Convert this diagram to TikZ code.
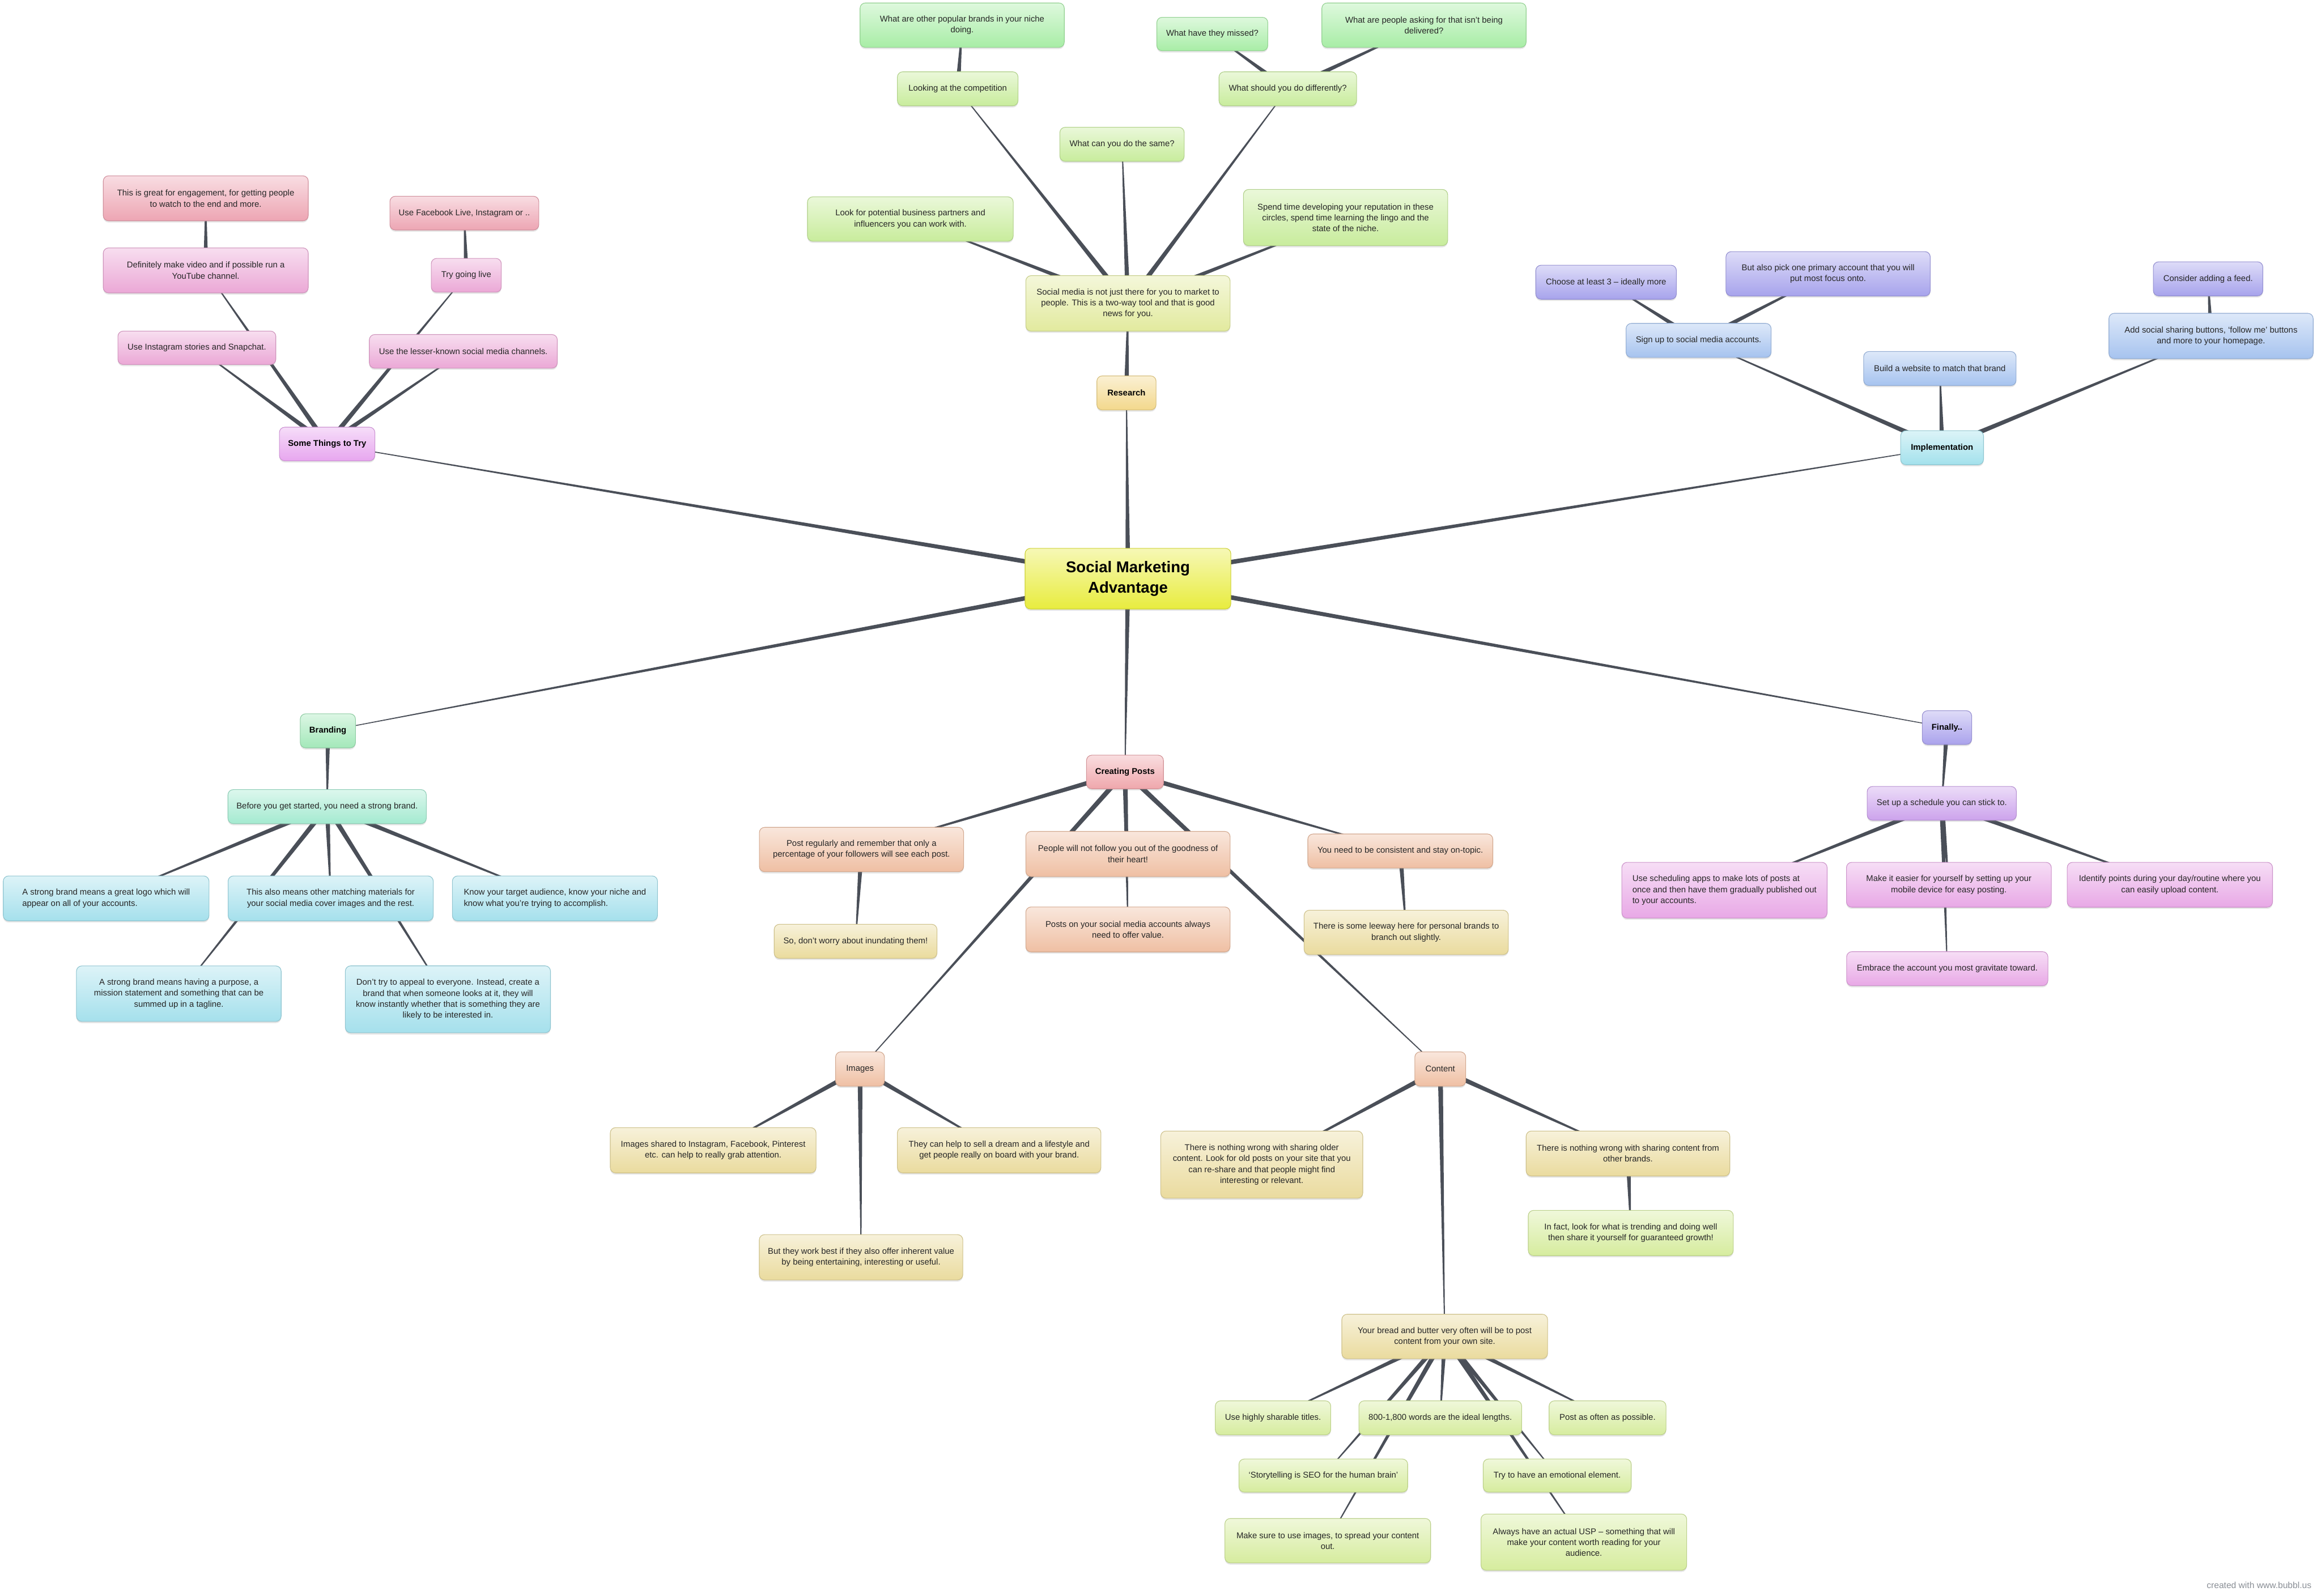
\documentclass[tikz,border=0pt]{standalone}
\usepackage{fontspec}
\setmainfont{Liberation Sans}
\usetikzlibrary{calc,shadows}
\definecolor{linkgrey}{HTML}{4A4F58}
\definecolor{txt}{HTML}{262626}
\definecolor{creditgrey}{HTML}{8A8F96}
\definecolor{sunny}{HTML}{E8EC3E}
\definecolor{sand}{HTML}{F3D88C}
\definecolor{citron}{HTML}{E2EA9E}
\definecolor{lime}{HTML}{C8EC9C}
\definecolor{leaf}{HTML}{A8EDA6}
\definecolor{aqua}{HTML}{A3E1EC}
\definecolor{sky}{HTML}{A6C3EF}
\definecolor{iris}{HTML}{A7A3EC}
\definecolor{orchid}{HTML}{E7A6EF}
\definecolor{rose}{HTML}{EBA8D6}
\definecolor{blush}{HTML}{EDA5B3}
\definecolor{jade}{HTML}{A3E8B9}
\definecolor{seafoam}{HTML}{A4EAD0}
\definecolor{ice}{HTML}{A5E0EC}
\definecolor{coral}{HTML}{EFA7AC}
\definecolor{peach}{HTML}{EFBFA3}
\definecolor{cream}{HTML}{EADB9E}
\definecolor{pistachio}{HTML}{D6EC9E}
\definecolor{lavender}{HTML}{AAA2EC}
\definecolor{lilac}{HTML}{CCA3EC}
\definecolor{mauve}{HTML}{E8A8E6}
\pgfdeclarelayer{links}
\pgfsetlayers{links,main}
% tapered connector: thick at the parent, thin at the child
\newcommand{\linkup}[2]{%
  \fill[linkgrey] ($(#1)!0.085cm!90:(#2)$) -- ($(#2)!0.012cm!-90:(#1)$)
    -- ($(#2)!0.012cm!90:(#1)$) -- ($(#1)!0.085cm!-90:(#2)$) -- cycle;}

\begin{document}
\begin{tikzpicture}[x=0.05cm,y=-0.05cm,
  box/.style={draw,rounded corners=0.18cm,line width=0.6pt,align=center,
    font=\fontsize{8.1}{10.5}\selectfont,text=txt,inner xsep=3pt,inner ysep=2pt,
    drop shadow={shadow xshift=0pt,shadow yshift=-1.6pt,opacity=0.2}},
  tint/.style={top color=#1!38,bottom color=#1,draw=#1!88!black},
  wh/.style 2 args={minimum width=#1*0.05cm,minimum height=#2*0.05cm},
  head/.style={font=\fontsize{8.1}{10.5}\bfseries,text=black},
  core/.style={font=\fontsize{15}{20}\bfseries,text=black},
]
  \useasboundingbox (0,0) rectangle (1568,1078);

  % centre
  \node[box,tint=sunny,core,wh={139}{41}] (hub) at (762,391) {Social Marketing\\Advantage};

  % research
  \node[box,tint=sand,head,wh={40}{23}] (research) at (761,265.5) {Research};
  \node[box,tint=citron,wh={138}{37.5}] (twoway) at (762,205) {Social media is not just there for you to market to\\people. This is a two-way tool and that is good\\news for you.};
  \node[box,tint=lime,wh={81.5}{23}] (competition) at (647,60) {Looking at the competition};
  \node[box,tint=leaf,wh={138}{30}] (popular) at (650,17) {What are other popular brands in your niche\\doing.};
  \node[box,tint=lime,wh={93}{23}] (differently) at (870,60) {What should you do differently?};
  \node[box,tint=leaf,wh={75}{22.6}] (missed) at (819,23) {What have they missed?};
  \node[box,tint=leaf,wh={138}{30}] (asking) at (962,17) {What are people asking for that isn’t being\\delivered?};
  \node[box,tint=lime,wh={84}{23}] (same) at (758,97.5) {What can you do the same?};
  \node[box,tint=lime,wh={139}{30}] (partners) at (615,148) {Look for potential business partners and\\influencers you can work with.};
  \node[box,tint=lime,wh={138}{38}] (reputation) at (909,147) {Spend time developing your reputation in these\\circles, spend time learning the lingo and the\\state of the niche.};

  % some things to try
  \node[box,tint=orchid,head,wh={64.5}{22.7}] (trythings) at (221,300) {Some Things to Try};
  \node[box,tint=rose,wh={106.7}{22.6}] (stories) at (133,235) {Use Instagram stories and Snapchat.};
  \node[box,tint=rose,wh={138.5}{30.4}] (video) at (139,182.7) {Definitely make video and if possible run a\\YouTube channel.};
  \node[box,tint=blush,wh={138.5}{30.4}] (engage) at (139,134) {This is great for engagement, for getting people\\to watch to the end and more.};
  \node[box,tint=rose,wh={127}{22.7}] (lesser) at (313,237.4) {Use the lesser-known social media channels.};
  \node[box,tint=rose,wh={47.3}{22.8}] (golive) at (315,186) {Try going live};
  \node[box,tint=blush,wh={100.6}{22.8}] (fblive) at (313.7,144) {Use Facebook Live, Instagram or ..};

  % implementation
  \node[box,tint=aqua,head,wh={56}{23}] (impl) at (1312,302.5) {Implementation};
  \node[box,tint=sky,wh={98}{23}] (signup) at (1147.5,230) {Sign up to social media accounts.};
  \node[box,tint=iris,wh={95}{23}] (three) at (1085,190.7) {Choose at least 3 – ideally more};
  \node[box,tint=iris,wh={138}{30}] (primary) at (1235,185) {But also pick one primary account that you will\\put most focus onto.};
  \node[box,tint=sky,wh={103}{23}] (website) at (1310.5,249) {Build a website to match that brand};
  \node[box,tint=sky,wh={138}{30.6}] (sharing) at (1493.7,227) {Add social sharing buttons, ‘follow me’ buttons\\and more to your homepage.};
  \node[box,tint=iris,wh={74}{23}] (feed) at (1491.7,188.4) {Consider adding a feed.};

  % branding
  \node[box,tint=jade,head,wh={37.3}{23}] (branding) at (221.5,493.8) {Branding};
  \node[box,tint=seafoam,wh={134}{23}] (strongbrand) at (221,545) {Before you get started, you need a strong brand.};
  \node[box,tint=ice,wh={139}{30.3},align=left] (logo) at (71.7,607) {A strong brand means a great logo which will\\appear on all of your accounts.};
  \node[box,tint=ice,wh={138.6}{30.3}] (materials) at (223.4,607) {This also means other matching materials for\\your social media cover images and the rest.};
  \node[box,tint=ice,wh={138.6}{30.3},align=left] (audience) at (374.9,607) {Know your target audience, know your niche and\\know what you’re trying to accomplish.};
  \node[box,tint=ice,wh={138.3}{37.5}] (purpose) at (120.8,671.4) {A strong brand means having a purpose, a\\mission statement and something that can be\\summed up in a tagline.};
  \node[box,tint=ice,wh={138.6}{45.2}] (appeal) at (302.6,675.2) {Don’t try to appeal to everyone. Instead, create a\\brand that when someone looks at it, they will\\know instantly whether that is something they are\\likely to be interested in.};

  % creating posts
  \node[box,tint=coral,head,wh={52}{22.7}] (posts) at (760,521.6) {Creating Posts};
  \node[box,tint=peach,wh={138}{30}] (regularly) at (582,574) {Post regularly and remember that only a\\percentage of your followers will see each post.};
  \node[box,tint=cream,wh={110}{23}] (inundate) at (578,636) {So, don’t worry about inundating them!};
  \node[box,tint=peach,wh={138}{30.5}] (goodness) at (762,577) {People will not follow you out of the goodness of\\their heart!};
  \node[box,tint=peach,wh={138}{30.4}] (value) at (762,628) {Posts on your social media accounts always\\need to offer value.};
  \node[box,tint=peach,wh={125}{23}] (ontopic) at (946,575) {You need to be consistent and stay on-topic.};
  \node[box,tint=cream,wh={138}{30}] (leeway) at (950,630) {There is some leeway here for personal brands to\\branch out slightly.};

  \node[box,tint=peach,wh={33}{23.2}] (images) at (581,722.3) {Images};
  \node[box,tint=cream,wh={139}{30.6}] (shared) at (481.8,777.2) {Images shared to Instagram, Facebook, Pinterest\\etc. can help to really grab attention.};
  \node[box,tint=cream,wh={137.5}{30.6}] (dream) at (675,777.2) {They can help to sell a dream and a lifestyle and\\get people really on board with your brand.};
  \node[box,tint=cream,wh={137.5}{30.6}] (inherent) at (581.7,849.5) {But they work best if they also offer inherent value\\by being entertaining, interesting or useful.};

  \node[box,tint=peach,wh={34.4}{23.2}] (content) at (973,722.3) {Content};
  \node[box,tint=cream,wh={136.5}{45.4}] (older) at (852.4,786.9) {There is nothing wrong with sharing older\\content. Look for old posts on your site that you\\can re-share and that people might find\\interesting or relevant.};
  \node[box,tint=cream,wh={137.6}{30.4}] (otherbrands) at (1099.8,779.4) {There is nothing wrong with sharing content from\\other brands.};
  \node[box,tint=pistachio,wh={138.5}{30.6}] (trending) at (1101.7,833.1) {In fact, look for what is trending and doing well\\then share it yourself for guaranteed growth!};
  \node[box,tint=cream,wh={139}{30}] (ownsite) at (976,903) {Your bread and butter very often will be to post\\content from your own site.};
  \node[box,tint=pistachio,wh={78}{23}] (titles) at (860,958) {Use highly sharable titles.};
  \node[box,tint=pistachio,wh={110}{23}] (lengths) at (973,958) {800-1,800 words are the ideal lengths.};
  \node[box,tint=pistachio,wh={79}{23}] (often) at (1086,958) {Post as often as possible.};
  \node[box,tint=pistachio,wh={114}{22.4}] (story) at (894,997) {‘Storytelling is SEO for the human brain’};
  \node[box,tint=pistachio,wh={100}{22.4}] (emotion) at (1052,997) {Try to have an emotional element.};
  \node[box,tint=pistachio,wh={139}{30}] (spread) at (897,1041) {Make sure to use images, to spread your content\\out.};
  \node[box,tint=pistachio,wh={139}{38}] (usp) at (1070,1042) {Always have an actual USP – something that will\\make your content worth reading for your\\audience.};

  % finally
  \node[box,tint=lavender,head,wh={33.4}{22.8}] (finally) at (1315.3,491.6) {Finally..};
  \node[box,tint=lilac,wh={100.8}{22.8}] (schedule) at (1311.8,542.8) {Set up a schedule you can stick to.};
  \node[box,tint=mauve,wh={138.7}{37.7},align=left] (apps) at (1165,601.5) {Use scheduling apps to make lots of posts at\\once and then have them gradually published out\\to your accounts.};
  \node[box,tint=mauve,wh={138.4}{30.3}] (mobile) at (1316.6,597.8) {Make it easier for yourself by setting up your\\mobile device for easy posting.};
  \node[box,tint=mauve,wh={138.7}{30.3}] (identify) at (1465.9,597.8) {Identify points during your day/routine where you\\can easily upload content.};
  \node[box,tint=mauve,wh={136}{23}] (embrace) at (1315.5,654.5) {Embrace the account you most gravitate toward.};

  \node[font=\fontsize{8.5}{10}\selectfont,text=creditgrey,anchor=east] (credit) at (1564,1071) {created with www.bubbl.us};

  % connectors, behind the boxes
  \begin{pgfonlayer}{links}
    \fill[white] (0,0) rectangle (1568,1078);
    \foreach \kid in {research,trythings,impl,branding,posts,finally} {\linkup{hub}{\kid}}
    \linkup{research}{twoway}
    \foreach \kid in {competition,same,differently,partners,reputation} {\linkup{twoway}{\kid}}
    \linkup{competition}{popular}
    \foreach \kid in {missed,asking} {\linkup{differently}{\kid}}
    \foreach \kid in {stories,video,golive,lesser} {\linkup{trythings}{\kid}}
    \linkup{video}{engage}
    \linkup{golive}{fblive}
    \foreach \kid in {signup,website,sharing} {\linkup{impl}{\kid}}
    \foreach \kid in {three,primary} {\linkup{signup}{\kid}}
    \linkup{sharing}{feed}
    \linkup{branding}{strongbrand}
    \foreach \kid in {logo,materials,audience,purpose,appeal} {\linkup{strongbrand}{\kid}}
    \foreach \kid in {regularly,goodness,value,images,content,ontopic} {\linkup{posts}{\kid}}
    \linkup{regularly}{inundate}
    \linkup{ontopic}{leeway}
    \foreach \kid in {shared,dream,inherent} {\linkup{images}{\kid}}
    \foreach \kid in {older,otherbrands,ownsite} {\linkup{content}{\kid}}
    \linkup{otherbrands}{trending}
    \foreach \kid in {titles,lengths,often,story,spread,emotion,usp} {\linkup{ownsite}{\kid}}
    \linkup{finally}{schedule}
    \foreach \kid in {apps,mobile,embrace,identify} {\linkup{schedule}{\kid}}
  \end{pgfonlayer}
\end{tikzpicture}
\end{document}
